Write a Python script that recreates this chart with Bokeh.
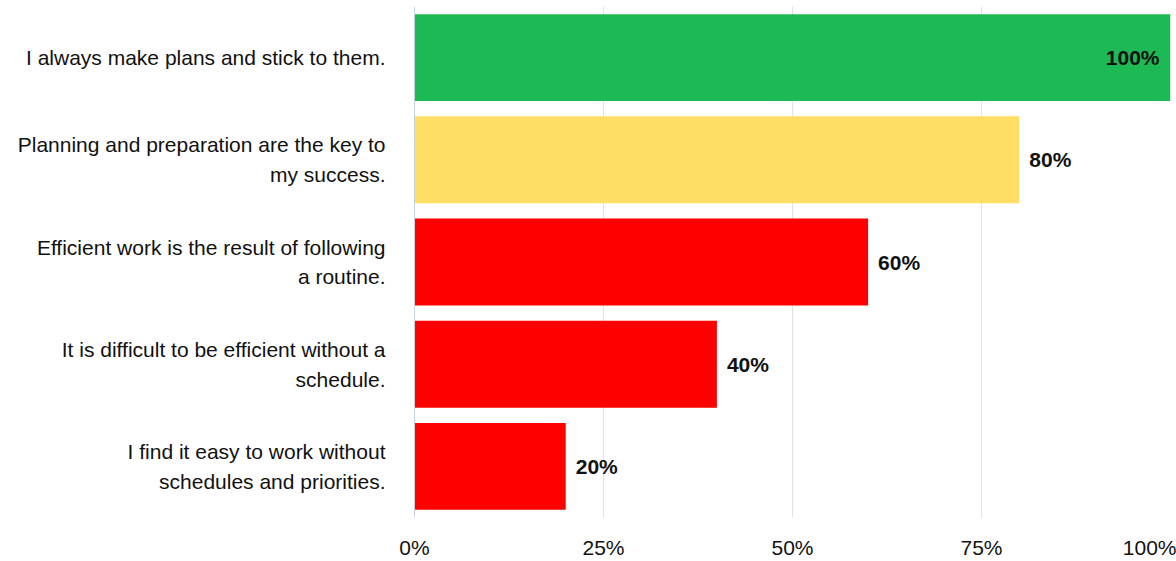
from bokeh.plotting import figure
from bokeh.models import ColumnDataSource, FactorRange, Range1d, FixedTicker, PrintfTickFormatter
from bokeh.embed import file_html
from bokeh.resources import INLINE
from bokeh.core.properties import value

categories = [
    "I always make plans and stick to them.",
    "Planning and preparation are the key to\nmy success.",
    "Efficient work is the result of following\na routine.",
    "It is difficult to be efficient without a\nschedule.",
    "I find it easy to work without\nschedules and priorities.",
]
values = [100, 80, 60, 40, 20]
colors = ["#1db954", "#ffde66", "#ff0000", "#ff0000", "#ff0000"]
tick_values = [0, 25, 50, 75, 100]

labels = [f"{v}%" for v in values]
inside = [v >= 100 for v in values]
src = ColumnDataSource(dict(
    cat=categories, val=values, color=colors, label=labels,
    align=["right" if i else "left" for i in inside],
    xoff=[-11 if i else 10 for i in inside],
))

p = figure(
    width=1176, height=561, output_backend="svg", toolbar_location=None,
    y_range=FactorRange(*reversed(categories), range_padding=0),
    x_range=Range1d(0, 100),
    min_border_left=414, min_border_right=6, min_border_top=6, min_border_bottom=43,
)
p.hbar(y="cat", right="val", left=0, height=0.85, color="color", line_color=None, source=src)
p.text(x="val", y="cat", text="label", text_align="align", x_offset="xoff",
       text_baseline="middle", text_font=value("Liberation Sans"), text_font_style="bold",
       text_font_size="21px", text_color="#111111", source=src)

p.outline_line_color = None
p.background_fill_color = "white"
p.border_fill_color = "white"

p.xgrid.ticker = FixedTicker(ticks=tick_values)
p.xgrid.grid_line_color = "#dde2ea"
p.ygrid.grid_line_color = None

p.xaxis.ticker = FixedTicker(ticks=tick_values)
p.xaxis.formatter = PrintfTickFormatter(format="%d%%")
p.xaxis.axis_line_color = None
p.xaxis.major_tick_line_color = None
p.xaxis.minor_tick_line_color = None
p.xaxis.major_tick_out = 0
p.xaxis.major_tick_in = 0
p.xaxis.minor_tick_out = 0
p.xaxis.major_label_standoff = 18
p.xaxis.major_label_text_font = "Liberation Sans"
p.xaxis.major_label_text_font_size = "21px"
p.xaxis.major_label_text_color = "#111111"

p.yaxis.axis_line_color = "#c8d2e0"
p.yaxis.major_tick_line_color = None
p.yaxis.minor_tick_line_color = None
p.yaxis.major_tick_out = 0
p.yaxis.major_tick_in = 0
p.yaxis.major_label_standoff = 29
p.yaxis.major_label_text_font = "Liberation Sans"
p.yaxis.major_label_text_font_size = "21px"
p.yaxis.major_label_text_line_height = 1.3
p.yaxis.major_label_text_color = "#111111"
p.yaxis.major_label_text_align = "right"

open("out.html", "w").write(file_html(p, INLINE))
